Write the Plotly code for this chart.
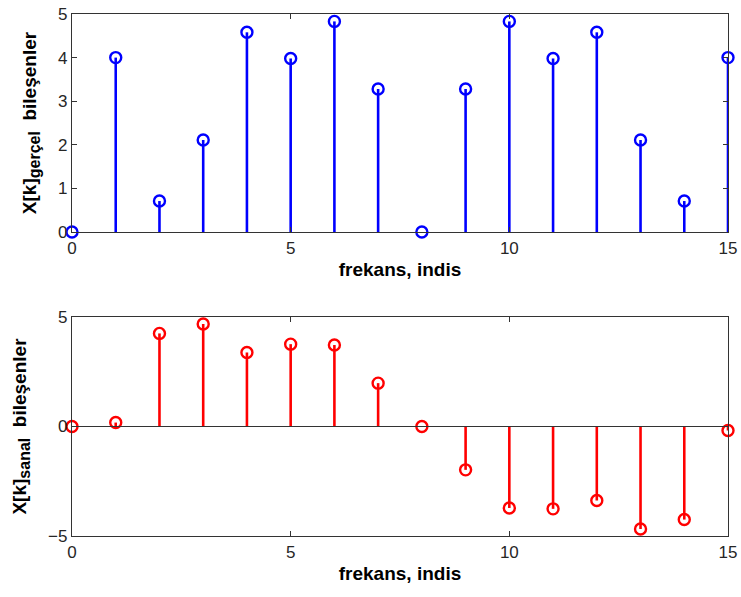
import plotly.graph_objects as go

k = list(range(16))
real_vals = [0.0, 4.0, 0.71, 2.11, 4.58, 3.98, 4.83, 3.28, 0.0, 3.28, 4.83, 3.98, 4.58, 2.11, 0.71, 4.0]
imag_vals = [0.0, 0.18, 4.25, 4.68, 3.38, 3.76, 3.72, 1.98, 0.0, -1.98, -3.72, -3.76, -3.38, -4.68, -4.25, -0.18]
x_ticks = [0, 5, 10, 15]
y1_ticks = [0, 1, 2, 3, 4, 5]
y2_ticks = [-5, 0, 5]


def stem_xy(xs, ys):
    sx, sy = [], []
    for a, b in zip(xs, ys):
        sx += [a, a, None]
        sy += [0, b, None]
    return sx, sy


fig = go.Figure()
for vals, color, xa, ya in [(real_vals, "#0000ff", "x", "y"), (imag_vals, "#ff0000", "x2", "y2")]:
    sx, sy = stem_xy(k, vals)
    fig.add_trace(go.Scatter(x=sx, y=sy, mode="lines", line=dict(color=color, width=2.6),
                             xaxis=xa, yaxis=ya, showlegend=False, hoverinfo="skip"))
    fig.add_trace(go.Scatter(x=k, y=vals, mode="markers",
                             marker=dict(symbol="circle-open", size=11, color=color, line=dict(width=2.4)),
                             xaxis=xa, yaxis=ya, showlegend=False, cliponaxis=False))

# baseline on lower plot
fig.add_trace(go.Scatter(x=[0, 15], y=[0, 0], mode="lines", line=dict(color="#333333", width=1.2),
                         xaxis="x2", yaxis="y2", showlegend=False, hoverinfo="skip"))

tickfont = dict(family="Liberation Sans, Arial, sans-serif", size=17, color="#262626")
titlefont = dict(family="Liberation Sans, Arial, sans-serif", size=19, color="#000000")

common_x = dict(range=[0, 15], tickvals=x_ticks, ticks="inside", ticklen=5, tickcolor="#333",
                showline=True, linecolor="#333", linewidth=1.2, mirror="ticks", showgrid=False,
                zeroline=False, tickfont=tickfont, automargin=False)
common_y = dict(ticks="inside", ticklen=5, tickcolor="#333", showline=True, linecolor="#333",
                linewidth=1.2, mirror="ticks", showgrid=False, zeroline=False, tickfont=tickfont,
                automargin=False)

sub_style = "font-size:16px"
fig.update_layout(
    width=741, height=597,
    margin=dict(l=0, r=0, t=0, b=0),
    plot_bgcolor="white", paper_bgcolor="white",
    xaxis=dict(domain=[72 / 741, 728 / 741], anchor="y",
               title=dict(text="<b>frekans, indis</b>", font=titlefont, standoff=6), **common_x),
    yaxis=dict(domain=[1 - 232 / 597, 1 - 14 / 597], anchor="x", range=[0, 5], tickvals=y1_ticks,
               title=dict(text=f"<b>X[k]<sub><span style='{sub_style}'>gerçel</span></sub>  bileşenler</b>",
                          font=titlefont, standoff=16),
               **common_y),
    xaxis2=dict(domain=[72 / 741, 728 / 741], anchor="y2",
                title=dict(text="<b>frekans, indis</b>", font=titlefont, standoff=6), **common_x),
    yaxis2=dict(domain=[1 - 536 / 597, 1 - 317 / 597], anchor="x2", range=[-5, 5], tickvals=y2_ticks,
                title=dict(text=f"<b>X[k]<sub><span style='{sub_style}'>sanal</span></sub>  bileşenler</b>",
                           font=titlefont, standoff=16),
                **common_y),
)

fig.write_html("out.html")
